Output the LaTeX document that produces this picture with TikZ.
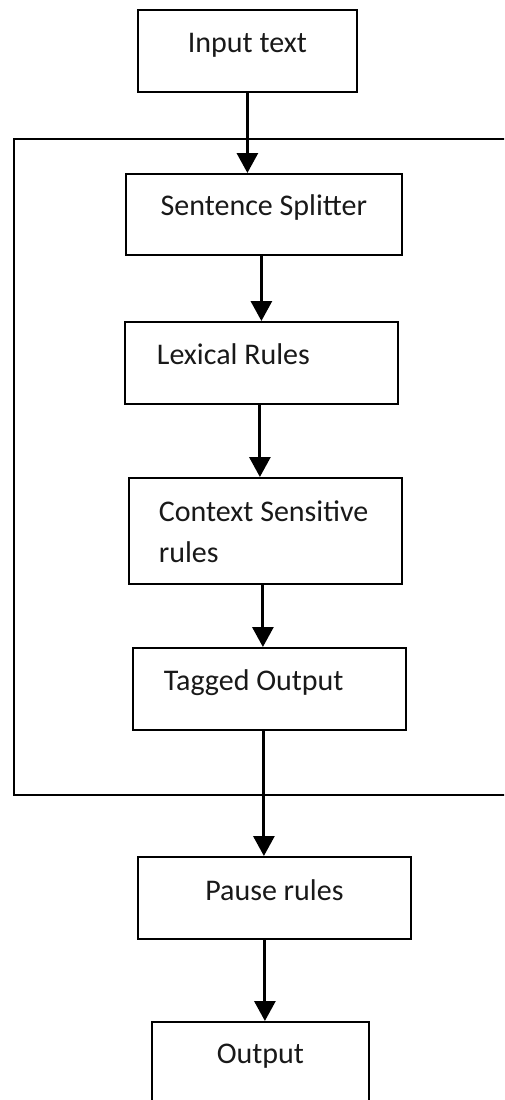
\documentclass[tikz,border=0pt]{standalone}
\usepackage{fontspec}
\setmainfont{Carlito}
\usetikzlibrary{arrows.meta}
\newcommand\natsp{\spaceskip=0pt\xspaceskip=0pt\relax}
\begin{document}
\begin{tikzpicture}[x=1pt,y=-1pt,
  box/.style={draw=black, line width=1.8pt, rectangle, inner ysep=0pt, inner xsep=0pt,
    anchor=north west, font=\fontsize{30pt}{41pt}\selectfont, text=black!90},
  cbox/.style={box, align=center},
  lbox/.style={box, text width=273pt, align=left},
  arr/.style={line width=3pt, -{Triangle[length=20pt,width=21pt]}},
  framepath/.style={line width=2pt}]
\useasboundingbox (0,0) rectangle (504,1100);
\clip (0,0) rectangle (504,1100);
\fill[white] (0,0) rectangle (504,1100);

% outer frame (open to the right edge)
\draw[framepath] (512,139) -- (14,139) -- (14,795) -- (512,795);

\node[cbox, minimum width=219pt, text height=43pt, text depth=39pt] (inp) at (137,9) {\natsp Input text};
\node[cbox, minimum width=276pt, text height=42pt, text depth=39pt] (ss) at (125,173) {\natsp Sentence Splitter};
\node[lbox, text height=43pt, text depth=39pt] (lex) at (124,321) {\natsp\hspace*{32pt}Lexical Rules};
\node[lbox, text height=44pt, text depth=62pt] (ctx) at (128,477) {\natsp\hspace*{30pt}Context Sensitive\\\hspace*{30pt}rules};
\node[lbox, text height=43pt, text depth=39pt] (tag) at (132,647) {\natsp\hspace*{31pt}Tagged Output};
\node[cbox, minimum width=273pt, text height=44pt, text depth=38pt] (pause) at (137,856) {\natsp Pause rules};
\node[cbox, minimum width=217pt, text height=42pt, text depth=90pt] (out) at (151,1021) {Output};

\draw[arr] (inp.south) -- (inp.south |- ss.north);
\draw[arr] (lex.north |- ss.south) -- (lex.north);
\draw[arr] ([xshift=-1.5pt]lex.south) -- ([xshift=-1.5pt]lex.south |- ctx.north);
\draw[arr] ([xshift=-2.5pt]ctx.south) -- ([xshift=-2.5pt]ctx.south |- tag.north);
\draw[arr] ([xshift=-5.5pt]tag.south) -- ([xshift=-5.5pt]tag.south |- pause.north);
\draw[arr] ([xshift=-9.5pt]pause.south) -- ([xshift=-9.5pt]pause.south |- out.north);
\end{tikzpicture}
\end{document}
